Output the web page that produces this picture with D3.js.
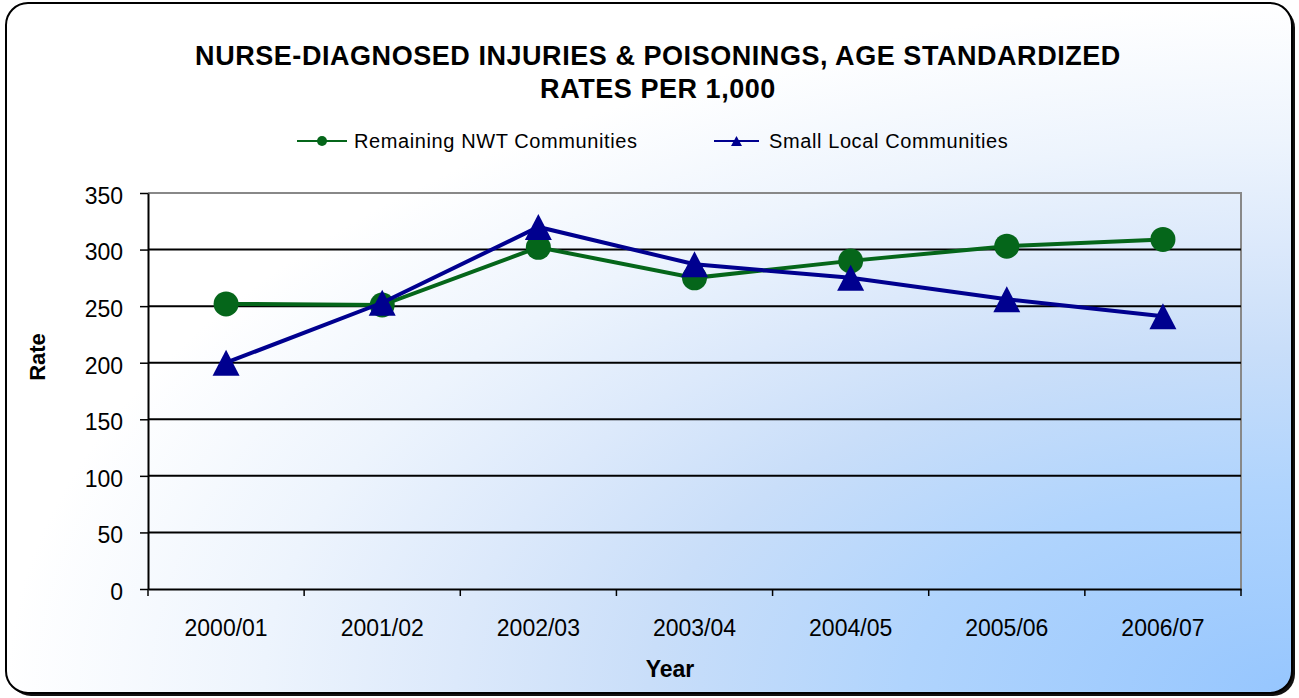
<!DOCTYPE html>
<html>
<head>
<meta charset="utf-8">
<script src="https://cdn.jsdelivr.net/npm/d3@7"></script>
<style>
  html, body { margin: 0; padding: 0; background: #ffffff; }
  svg { display: block; font-family: "Liberation Sans", Arial, sans-serif; }
</style>
</head>
<body>
<svg id="chart" width="1299" height="698"></svg>
<script>
// ---- Data ----
const categories = ["2000/01", "2001/02", "2002/03", "2003/04", "2004/05", "2005/06", "2006/07"];
const remainingNWT = [252, 251, 302, 275, 290, 303, 309];
const smallLocal = [200, 253, 320, 287, 275, 256, 241];
const yTickValues = [0, 50, 100, 150, 200, 250, 300, 350];
const seriesNames = ["Remaining NWT Communities", "Small Local Communities"];
const titleLines = ["NURSE-DIAGNOSED INJURIES & POISONINGS, AGE STANDARDIZED", "RATES PER 1,000"];
const xTitle = "Year";
const yTitle = "Rate";

// ---- Setup ----
const svg = d3.select("#chart");
const plot = { left: 148, right: 1241, top: 193, bottom: 589 };
const greenColor = "#05661a";
const blueColor = "#00008f";

const defs = svg.append("defs");
const grad = defs.append("radialGradient")
  .attr("id", "bg").attr("cx", 1).attr("cy", 1).attr("r", 1).attr("fx", 1).attr("fy", 1);
[["0%", "#96c6fe"], ["30%", "#b0d4fd"], ["50%", "#c9def9"], ["65%", "#dce9fb"],
 ["80%", "#edf4fd"], ["100%", "#ffffff"]].forEach(([o, c]) =>
  grad.append("stop").attr("offset", o).attr("stop-color", c));

// Frame shadow + frame
svg.append("rect").attr("x", 9).attr("y", 6).attr("width", 1286).attr("height", 690)
  .attr("rx", 22).attr("fill", "#111");
svg.append("rect").attr("x", 6).attr("y", 3).attr("width", 1286).attr("height", 690)
  .attr("rx", 22).attr("fill", "url(#bg)").attr("stroke", "#000").attr("stroke-width", 2);

// Scales
const x = d3.scaleBand().domain(categories).range([plot.left, plot.right]).padding(0);
const xc = c => x(c) + x.bandwidth() / 2;
const y = d3.scaleLinear().domain([0, 350]).range([plot.bottom, plot.top]);

// Plot border (gray top & right)
svg.append("path")
  .attr("d", `M${plot.left},${y(350)}H${plot.right}V${y(0)}`)
  .attr("fill", "none").attr("stroke", "#888").attr("stroke-width", 2);

// Gridlines
svg.append("g").selectAll("line")
  .data(yTickValues.filter(v => v > 0 && v < 350))
  .join("line")
  .attr("x1", plot.left).attr("x2", plot.right)
  .attr("y1", d => y(d)).attr("y2", d => y(d))
  .attr("stroke", "#000").attr("stroke-width", 2);

// Y axis
const yAxis = svg.append("g").attr("transform", `translate(${plot.left},0)`)
  .call(d3.axisLeft(y).tickValues(yTickValues).tickSize(8).tickPadding(17).tickSizeOuter(0));
yAxis.select(".domain").attr("stroke", "#000").attr("stroke-width", 2);
yAxis.selectAll(".tick line").attr("stroke", "#000").attr("stroke-width", 1.5);
yAxis.selectAll(".tick text").attr("font-size", 23).attr("fill", "#000")
  .attr("font-family", "Liberation Sans, Arial, sans-serif").attr("dy", "0.45em");

// X axis (labels at centres, ticks at boundaries)
const xAxis = svg.append("g").attr("transform", `translate(0,${plot.bottom})`)
  .call(d3.axisBottom(x).tickSize(0).tickPadding(31).tickSizeOuter(0));
xAxis.select(".domain").attr("stroke", "#000").attr("stroke-width", 2);
xAxis.selectAll(".tick text").attr("font-size", 23).attr("fill", "#000")
  .attr("font-family", "Liberation Sans, Arial, sans-serif");
const boundaries = categories.map(c => x(c)).concat([plot.right]);
svg.append("g").selectAll("line").data(boundaries).join("line")
  .attr("x1", d => d).attr("x2", d => d)
  .attr("y1", plot.bottom).attr("y2", plot.bottom + 7)
  .attr("stroke", "#000").attr("stroke-width", 1.5);

// Series
const line = d3.line().x((d, i) => xc(categories[i])).y(d => y(d));
const triPath = (w, h) => `M0,${-h / 2}L${w / 2},${h / 2}L${-w / 2},${h / 2}Z`;

svg.append("path").datum(remainingNWT).attr("d", line)
  .attr("fill", "none").attr("stroke", greenColor).attr("stroke-width", 4);
svg.append("g").selectAll("circle").data(remainingNWT).join("circle")
  .attr("cx", (d, i) => xc(categories[i])).attr("cy", d => y(d)).attr("r", 12.5)
  .attr("fill", greenColor);

svg.append("path").datum(smallLocal).attr("d", line)
  .attr("fill", "none").attr("stroke", blueColor).attr("stroke-width", 4);
svg.append("g").selectAll("path").data(smallLocal).join("path")
  .attr("transform", (d, i) => `translate(${xc(categories[i])},${y(d)})`)
  .attr("d", triPath(27, 26)).attr("fill", blueColor);

// Title
const title = svg.append("text").attr("text-anchor", "middle").attr("font-weight", "bold")
  .attr("font-size", 27).attr("fill", "#000");
title.append("tspan").attr("x", 658).attr("y", 65).attr("letter-spacing", 0.55).text(titleLines[0]);
title.append("tspan").attr("x", 658).attr("y", 98).attr("letter-spacing", 0.55).text(titleLines[1]);

// Legend
const legendY = 141;
const legendItems = [
  { name: seriesNames[0], color: greenColor, x0: 297, x1: 347, tx: 354, shape: "circle" },
  { name: seriesNames[1], color: blueColor, x0: 714, x1: 759, tx: 769, shape: "triangle" }
];
const lg = svg.append("g").selectAll("g").data(legendItems).join("g");
lg.append("line").attr("x1", d => d.x0).attr("x2", d => d.x1)
  .attr("y1", legendY).attr("y2", legendY).attr("stroke", d => d.color).attr("stroke-width", 2);
lg.filter(d => d.shape === "circle").append("circle")
  .attr("cx", d => (d.x0 + d.x1) / 2).attr("cy", legendY).attr("r", 5).attr("fill", d => d.color);
lg.filter(d => d.shape === "triangle").append("path")
  .attr("transform", d => `translate(${(d.x0 + d.x1) / 2},${legendY})`)
  .attr("d", triPath(11, 10)).attr("fill", d => d.color);
lg.append("text").attr("x", d => d.tx).attr("y", legendY + 7)
  .attr("font-size", 20).attr("letter-spacing", 0.6).attr("fill", "#000").text(d => d.name);

// Axis titles
svg.append("text").attr("x", 670).attr("y", 677).attr("text-anchor", "middle")
  .attr("font-weight", "bold").attr("font-size", 23).attr("fill", "#000").text(xTitle);
svg.append("text").attr("transform", "translate(45,357) rotate(-90)").attr("text-anchor", "middle")
  .attr("font-weight", "bold").attr("font-size", 22).attr("fill", "#000").text(yTitle);
</script>
</body>
</html>
